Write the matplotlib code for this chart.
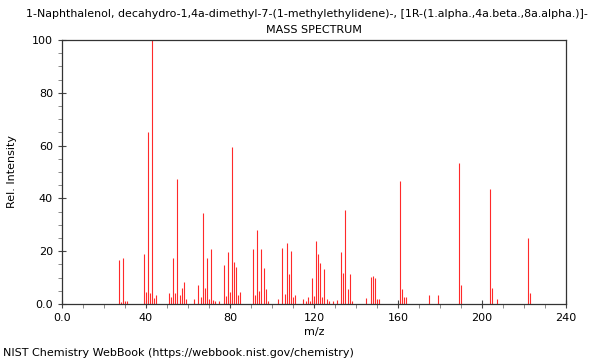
import matplotlib
matplotlib.use("Agg")
import matplotlib.pyplot as plt
from matplotlib.ticker import MultipleLocator, FixedFormatter, FixedLocator

# m/z peaks and relative intensities
mz = [27, 28, 29, 30, 31,
      39, 40, 41, 42, 43, 44, 45,
      51, 52, 53, 54, 55, 56, 57, 58, 59,
      63, 65, 66, 67, 68, 69, 70, 71, 72, 73, 75, 77, 78, 79, 80, 81, 82, 83, 84, 85,
      91, 92, 93, 94, 95, 96, 97, 98,
      103, 105, 106, 107, 108, 109, 110, 111,
      115, 116, 117, 118, 119, 120, 121, 122, 123, 124, 125, 126, 127, 129, 131,
      133, 134, 135, 136, 137, 138,
      145, 147, 148, 149, 150, 151,
      161, 162, 163, 164,
      175, 179,
      189, 190,
      204, 205, 207,
      222, 223]
intensity = [16.7, 0.8, 17.3, 1.2, 1.2,
             19.0, 4.5, 65.3, 4.2, 100.0, 2.3, 3.4,
             4.0, 2.8, 17.3, 4.0, 47.5, 3.4, 6.1, 8.2, 2.0,
             2.0, 7.1, 2.8, 34.4, 6.0, 17.3, 2.0, 21.0, 1.5, 1.2, 1.0, 14.8, 3.2, 19.7, 4.7, 59.3, 15.8, 14.1, 3.4, 4.4,
             21.0, 3.4, 28.0, 4.9, 21.0, 13.5, 5.6, 1.0,
             2.0, 21.3, 3.7, 23.0, 11.2, 20.0, 2.8, 3.4,
             2.0, 1.2, 2.7, 1.2, 10.0, 3.0, 23.9, 19.0, 15.4, 2.5, 13.1, 1.8, 1.2, 1.2, 1.5,
             19.8, 11.9, 35.6, 5.6, 11.2, 1.0,
             2.1, 10.1, 10.7, 10.0, 1.8, 1.9,
             46.5, 5.6, 2.6, 2.6,
             3.4, 3.4,
             53.5, 7.2,
             43.6, 6.2, 2.0,
             24.9, 4.0]

xticks = [0, 40, 80, 120, 160, 200, 240]
xlabels = ["0.0", "40", "80", "120", "160", "200", "240"]
yticks = [0, 20, 40, 60, 80, 100]
ylabels = ["0.0", "20", "40", "60", "80", "100"]

plt.rcParams['font.family'] = ['DejaVu Sans']
fig = plt.figure(figsize=(6, 3.6), dpi=100)
ax = fig.add_axes([0.1033, 0.1556, 0.84, 0.7333])

ax.vlines(mz, 0, intensity, colors='#ff2a2a', linewidth=0.8)

ax.set_xlim(0, 240)
ax.set_ylim(0, 100)
ax.xaxis.set_major_locator(FixedLocator(xticks))
ax.xaxis.set_major_formatter(FixedFormatter(xlabels))
ax.yaxis.set_major_locator(FixedLocator(yticks))
ax.yaxis.set_major_formatter(FixedFormatter(ylabels))
ax.xaxis.set_minor_locator(MultipleLocator(10))
ax.yaxis.set_minor_locator(MultipleLocator(5))
ax.tick_params(which='major', direction='inout', length=6, width=0.8, colors='#444444', labelcolor='black', labelsize=8)
ax.tick_params(which='minor', direction='out', length=3, width=0.6, colors='#777777')
for s in ax.spines.values():
    s.set_color('#333333')
    s.set_linewidth(0.9)

ax.set_xlabel("m/z", fontsize=8, labelpad=3)
ax.set_ylabel("Rel. Intensity", fontsize=8, labelpad=11)

fig.text(0.512, 0.961, "1-Naphthalenol, decahydro-1,4a-dimethyl-7-(1-methylethylidene)-, [1R-(1.alpha.,4a.beta.,8a.alpha.)]-",
         ha='center', va='center', fontsize=7.9)
fig.text(0.523, 0.917, "MASS SPECTRUM", ha='center', va='center', fontsize=8)
fig.text(0.005, 0.02, "NIST Chemistry WebBook (https://webbook.nist.gov/chemistry)",
         ha='left', va='center', fontsize=8)

fig.savefig("out.png", dpi=100)
